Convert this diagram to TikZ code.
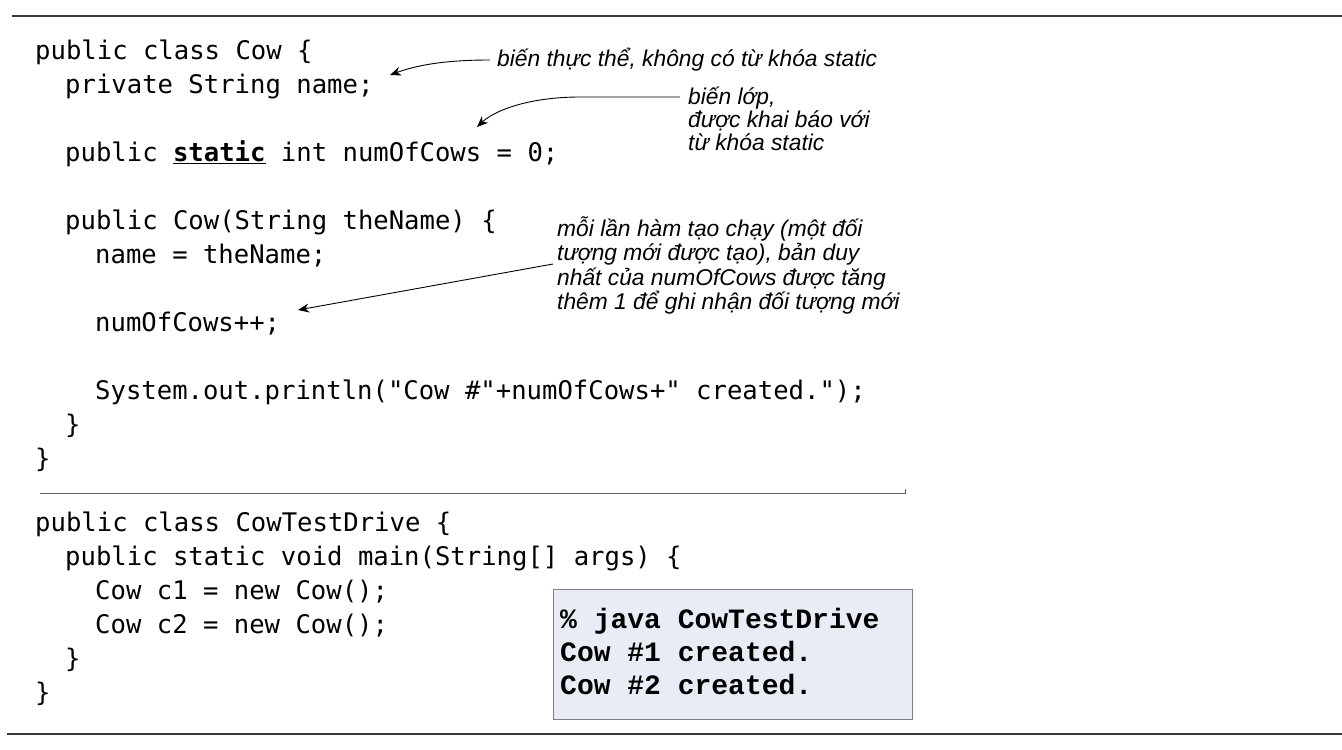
\documentclass[tikz,border=0pt]{standalone}
\usepackage{fontspec}
\usetikzlibrary{arrows.meta}
\setmainfont{Liberation Sans}
\newfontfamily\codefont{DejaVu Sans Mono}
\newfontfamily\termfont{Liberation Mono}
\newfontfamily\notefont{Liberation Sans}
\definecolor{termfill}{HTML}{E8ECF5}
\definecolor{termline}{HTML}{7F7F7F}
\definecolor{rulecol}{HTML}{3A3A3A}
\tikzset{
  codeline/.style={anchor=base west, inner sep=0pt, font=\codefont\fontsize{25.6}{30}\selectfont},
  noteline/.style={anchor=base west, inner sep=0pt, font=\notefont\itshape\fontsize{22.8}{27}\selectfont},
  termline/.style={anchor=base west, inner sep=0pt, font=\termfont\bfseries\fontsize{28}{33}\selectfont},
  pointer/.style={-{Stealth[length=11pt,width=9pt,inset=3.5pt]}, line width=0.9pt},
  rulebar/.style={line width=1.3pt, draw=rulecol}
}
\begin{document}
\begin{tikzpicture}[x=1pt,y=-1pt]
\useasboundingbox (0,0) rectangle (1342,750);
% rules
\draw[rulebar] (12,16) -- (1342,16);
\draw[rulebar] (7,734) -- (1342,734);
\draw[line width=1pt, draw=rulecol!80] (40,493) -- (905,493) -- (905,489);
% code of class Cow
\node[codeline] (c1) at (35,59) {public class Cow \{};
\node[codeline] (c2) at (65,93) {private String name;};
\node[codeline] (c3) at (65,161) {public \textbf{\underline{static}} int numOfCows = 0;};
\node[codeline] (c4) at (65,229) {public Cow(String theName) \{};
\node[codeline] (c5) at (95,263) {name = theName;};
\node[codeline] (c6) at (95,331) {numOfCows++;};
\node[codeline] (c7) at (95,399) {System.out.println("Cow \#"+numOfCows+" created.");};
\node[codeline] (c8) at (65,433) {\}};
\node[codeline] (c9) at (35,467) {\}};
% code of CowTestDrive
\node[codeline] (d1) at (35,531) {public class CowTestDrive \{};
\node[codeline] (d2) at (65,565) {public static void main(String[] args) \{};
\node[codeline] (d3) at (95,599) {Cow c1 = new Cow();};
\node[codeline] (d4) at (95,633) {Cow c2 = new Cow();};
\node[codeline] (d5) at (65,667) {\}};
\node[codeline] (d6) at (35,701) {\}};
% terminal
\node[draw=termline, line width=1.3pt, fill=termfill, minimum width=359pt, minimum height=130pt, anchor=north west, inner sep=0pt] (term) at (553,589) {};
\node[termline] (t1) at (560,628) {\% java CowTestDrive};
\node[termline] (t2) at (560,661) {Cow \#1 created.};
\node[termline] (t3) at (560,694) {Cow \#2 created.};
% notes
\node[noteline] (n1) at (497,66) {biến thực thể, không có từ khóa static};
\node[noteline] (n2a) at (688,104) {biến lớp,};
\node[noteline] (n2b) at (688,127) {được khai báo với};
\node[noteline] (n2c) at (688,150) {từ khóa static};
\node[noteline] (n3a) at (557,236) {mỗi lần hàm tạo chạy (một đối};
\node[noteline] (n3b) at (557,260) {tượng mới được tạo), bản duy};
\node[noteline] (n3c) at (557,285) {nhất của numOfCows được tăng};
\node[noteline] (n3d) at (557,309) {thêm 1 để ghi nhận đối tượng mới};
% pointers
\coordinate (a1s) at (490,60);
\coordinate (a1e) at (390,75);
\coordinate (a2s) at (680,97);
\coordinate (a2e) at (477,127);
\coordinate (a3s) at (553,264);
\coordinate (a3e) at (298,310);
\draw[pointer] (a1s) .. controls (450,60) and (420,64) .. (a1e);
\draw[pointer] (a2s) -- (580,97) .. controls (530,97) and (495,110) .. (a2e);
\draw[pointer] (a3s) -- (a3e);
\end{tikzpicture}
\end{document}
